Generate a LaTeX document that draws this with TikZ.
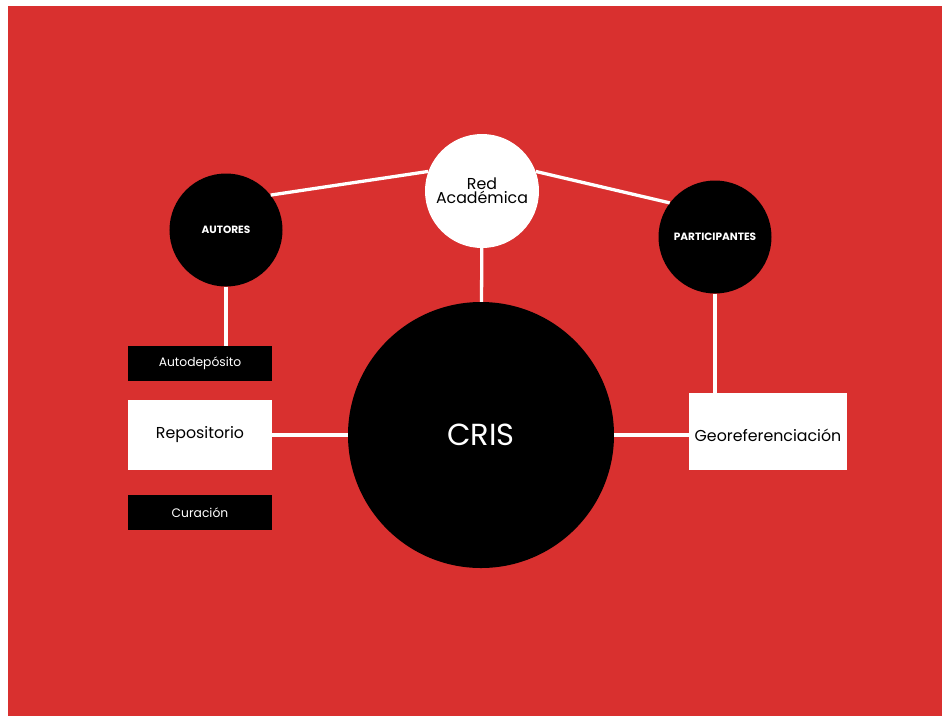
\documentclass[tikz,border=0pt]{standalone}
\usepackage{fontspec}
\setmainfont{Poppins}
\definecolor{bgred}{RGB}{217,48,47}
\tikzset{
  bubble/.style={circle,fill=black,text=white,inner sep=0pt,minimum size=3.39cm,font=\fontsize{9}{10}\selectfont\bfseries},
  whitebubble/.style={circle,fill=white,text=black,inner sep=0pt,minimum size=3.42cm,align=center,font=\fontsize{13.5}{14}\selectfont},
  darkbox/.style={rectangle,fill=black,text=white,inner sep=0pt,minimum width=4.32cm,minimum height=1.05cm,font=\fontsize{10.5}{12}\selectfont},
  lightbox/.style={rectangle,fill=white,text=black,inner sep=0pt,minimum width=4.32cm,minimum height=2.1cm,font=\fontsize{13.5}{15}\selectfont},
  link/.style={white,line width=2.8pt}
}
\begin{document}
\begin{tikzpicture}[x=0.03cm,y=-0.03cm]

\useasboundingbox (0,0) rectangle (944,716);
\fill[bgred] (8,6) rectangle (942,716); % Background

% Circles
\node[circle,fill=black,text=white,inner sep=0pt,minimum size=7.98cm,font=\fontsize{26}{28}\selectfont] (cris) at (481,435) {CRIS};
\node[whitebubble] (red) at (482,191) {Red\\[-2pt]Académica};
\node[bubble] (autores) at (226,230) {AUTORES};
\node[bubble] (part) at (715,237) {PARTICIPANTES};

% Boxes
\node[darkbox] (autodep) at (200,363.5) {Autodepósito};
\node[lightbox] (repo) at (200,435) {Repositorio};
\node[darkbox] (curacion) at (200,512.5) {Curación};
\node[lightbox,minimum width=4.74cm,minimum height=2.31cm,text height=0.62cm,text depth=0pt] (geo) at (768,431.5) {Georeferenciación};

% Connections
\draw[link] (autores.38) -- (red.160);
\draw[link] (red.20) -- (part.143);
\draw[link] (red) -- (cris);
\draw[link] (autores.south) -- (autores.south |- autodep.north);
\draw[link] (part.south) -- (part.south |- geo.north);
\draw[link] (repo) -- (cris);
\draw[link] (cris.east) -- (cris.east -| geo.west);

\end{tikzpicture}
\end{document}
